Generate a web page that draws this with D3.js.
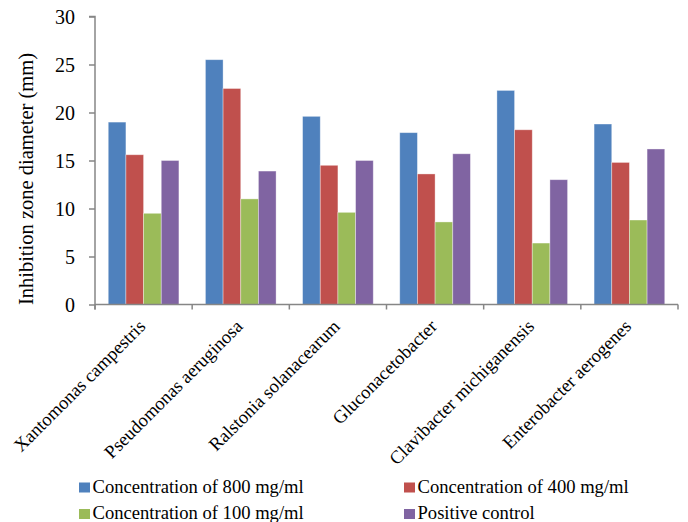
<!DOCTYPE html>
<html><head><meta charset="utf-8">
<script src="https://cdn.jsdelivr.net/npm/d3@7"></script>
<style>
svg text { font-family: 'Liberation Serif', 'Times New Roman', serif; }
</style>
</head>
<body style="margin:0;background:#fff">
<svg id="fig" width="688" height="522"></svg>
<script>
const categories = ["Xantomonas campestris","Pseudomonas aeruginosa","Ralstonia solanacearum","Gluconacetobacter","Clavibacter michiganensis","Enterobacter aerogenes"];
const seriesNames = ["Concentration of 800 mg/ml","Concentration of 400 mg/ml","Concentration of 100 mg/ml","Positive control"];
const conc800 = [19, 25.5, 19.6, 17.9, 22.3, 18.8];
const conc400 = [15.6, 22.5, 14.5, 13.6, 18.2, 14.8];
const conc100 = [9.5, 11, 9.6, 8.6, 6.4, 8.8];
const positiveControl = [15, 13.9, 15, 15.7, 13, 16.2];
const yTicks = [0, 5, 10, 15, 20, 25, 30];
const colors = ["#4F81BD","#C0504D","#9BBB59","#8064A2"];
const yTitle = "Inhibition zone diameter (mm)";

const seriesValues = [conc800, conc400, conc100, positiveControl];
const svg = d3.select("#fig");
const pLeft = 95, pRight = 678, pTop = 16.5, pBottom = 304.5;
const axisColor = "#868686";

function serif(sel, size) {
  return sel.style("font-family", "'Liberation Serif', 'Times New Roman', serif")
    .style("font-size", size + "px").attr("fill", "#000");
}

const x0 = d3.scaleBand().domain(categories).range([pLeft, pRight]).padding(0);
const bw = x0.bandwidth();
const gap = bw * 1.5 / 5.5;
const x1 = d3.scaleBand().domain(seriesNames).range([gap/2, bw - gap/2]).padding(0);
const y = d3.scaleLinear().domain([0, 30]).range([pBottom, pTop]);

// bars
const g = svg.append("g");
seriesNames.forEach((s, si) => {
  g.selectAll(null).data(categories).enter().append("rect")
    .attr("x", c => x0(c) + x1(s))
    .attr("y", (c, i) => y(seriesValues[si][i]))
    .attr("width", x1.bandwidth())
    .attr("height", (c, i) => y(0) - y(seriesValues[si][i]))
    .attr("fill", colors[si])
    .attr("stroke", "#ffffff").attr("stroke-opacity", 0.45).attr("stroke-width", 0.8);
});

// y axis
const yAxis = d3.axisLeft(y).tickValues(yTicks).tickSize(6).tickPadding(14);
const ya = svg.append("g").attr("transform", `translate(${pLeft},0)`).call(yAxis);
ya.attr("font-family", null).attr("font-size", null);
ya.select(".domain").attr("stroke", axisColor).attr("stroke-width", 1.5).attr("d", `M-6,${pTop}H0V${pBottom + 5}`);
ya.selectAll(".tick line").attr("stroke", axisColor).attr("stroke-width", 1.5);
serif(ya.selectAll(".tick text"), 20).attr("dy", "0.34em");

// x axis
const xa = svg.append("g").attr("transform", `translate(0,${pBottom})`);
xa.append("path").attr("d", `M${pLeft},0H${pRight}`).attr("stroke", axisColor).attr("stroke-width", 1.5);
const bounds = categories.map(c => x0(c)).concat([pRight]);
xa.selectAll("line.tk").data(bounds).enter().append("line")
  .attr("x1", d => d).attr("x2", d => d).attr("y1", 0).attr("y2", 5)
  .attr("stroke", axisColor).attr("stroke-width", 1.5);
serif(xa.selectAll("text.cat").data(categories).enter().append("text")
  .attr("class", "cat")
  .attr("transform", c => `translate(${x0(c) + bw/2 + 3},23) rotate(-45)`)
  .attr("text-anchor", "end"), 18.5)
  .text(c => c);

// y title
serif(svg.append("text")
  .attr("transform", `translate(33,179) rotate(-90)`)
  .attr("text-anchor", "middle"), 20.5)
  .text(yTitle);

// legend
const legPos = [[79, 482.5], [404, 482.5], [79, 509], [404, 509]];
const lg = svg.append("g");
seriesNames.forEach((s, i) => {
  const [lx, ly] = legPos[i];
  lg.append("rect").attr("x", lx).attr("y", ly).attr("width", 11).attr("height", 10).attr("fill", colors[i]);
  serif(lg.append("text").attr("x", lx + 13.5).attr("y", ly + 10), 18.6).text(s);
});
</script>
</body></html>
